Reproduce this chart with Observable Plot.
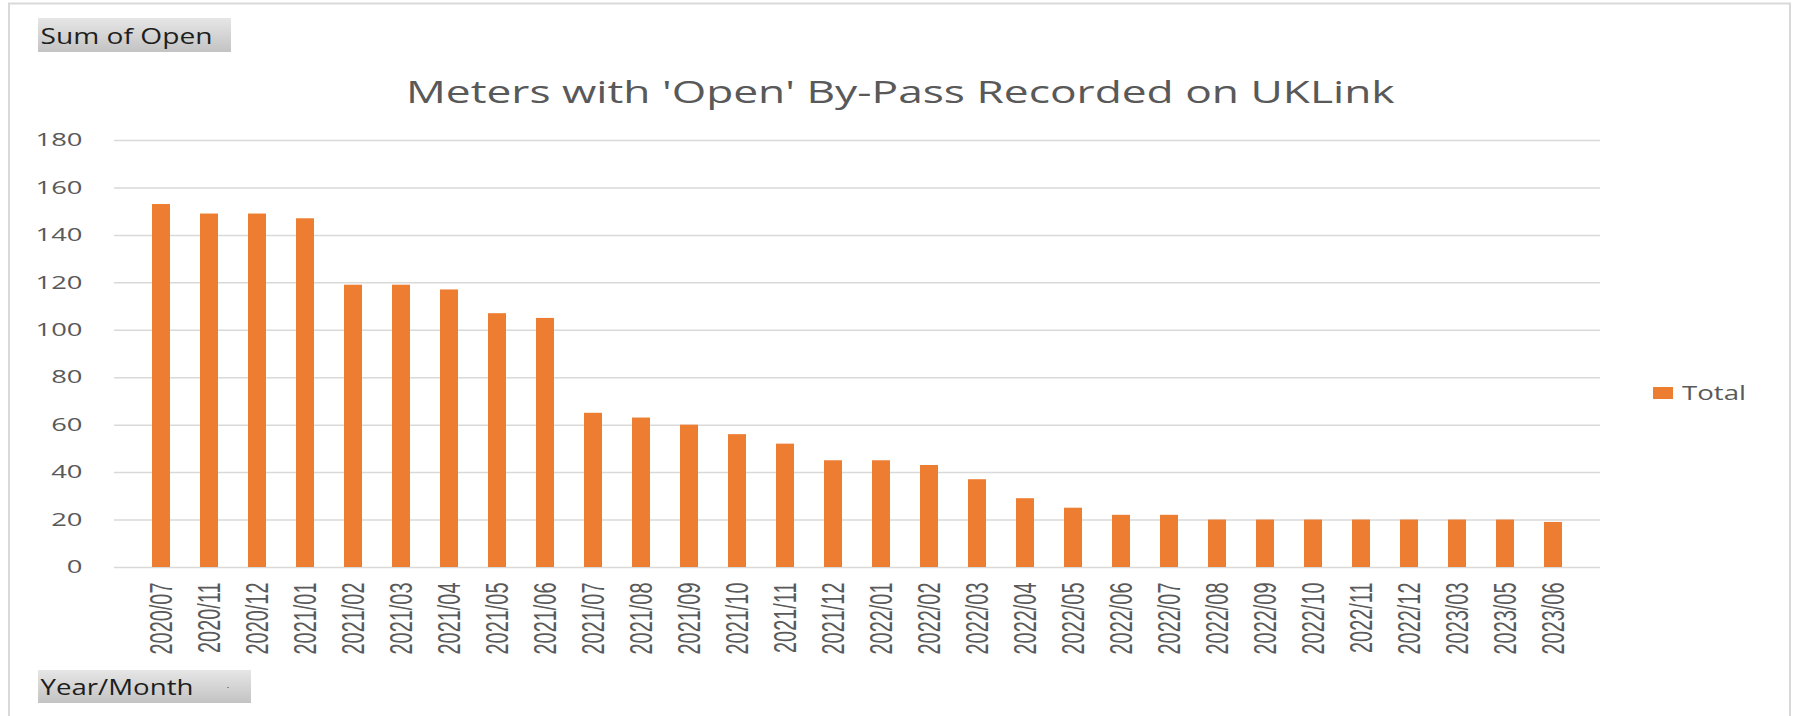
<!DOCTYPE html>
<html><head><meta charset="utf-8">
<script src="https://cdn.jsdelivr.net/npm/d3@7"></script>
<script src="https://cdn.jsdelivr.net/npm/@observablehq/plot@0.6"></script>
<style>
html,body{margin:0;padding:0;background:#fff;}
#chart{position:relative;width:1797px;height:716px;overflow:hidden;}
</style></head><body><div id="chart"></div>
<script>
const months = ["2020/07","2020/11","2020/12","2021/01","2021/02","2021/03","2021/04","2021/05","2021/06","2021/07","2021/08","2021/09","2021/10","2021/11","2021/12","2022/01","2022/02","2022/03","2022/04","2022/05","2022/06","2022/07","2022/08","2022/09","2022/10","2022/11","2022/12","2023/03","2023/05","2023/06"];
const totals = [153,149,149,147,119,119,117,107,105,65,63,60,56,52,45,45,43,37,29,25,22,22,20,20,20,20,20,20,20,19];
const yTicks = [0,20,40,60,80,100,120,140,160,180];
const seriesName = "Total";
const chartTitle = "Meters with 'Open' By-Pass Recorded on UKLink";
const valueField = "Sum of Open";
const axisField = "Year/Month";
const barColor = "#ED7D31";

const data = months.map((m, i) => ({month: m, total: totals[i], series: seriesName}));

const plot = Plot.plot({
  width: 1797, height: 716,
  marginLeft: 114, marginRight: 197, marginTop: 140, marginBottom: 149,
  style: {background: "transparent", fontFamily: "'Liberation Sans', Arial, sans-serif", overflow: "visible"},
  x: {domain: months, padding: 0.62, label: null},
  y: {domain: [0, 180], label: null},
  color: {domain: [seriesName], range: [barColor]},
  marks: [
    Plot.gridY(yTicks, {stroke: "#d9d9d9", strokeOpacity: 1, strokeWidth: 1.5}),
    Plot.barY(data, {x: "month", y: "total", fill: "series"}),
    Plot.axisY({ticks: yTicks, tickSize: 0, tickPadding: 32, fontSize: 18, fill: "#595959", label: null, fontFamily: "'Open Sans', sans-serif"}),
    Plot.axisX({tickSize: 0, tickPadding: 15, tickRotate: -90, textAnchor: "end", lineAnchor: "middle", fontSize: 20, fill: "#595959", label: null})
  ]
});
document.getElementById("chart").appendChild(plot);
const svg = d3.select(plot);

// horizontal stretch of tick labels (the reference is widened horizontally)
const yTexts = Array.from(plot.querySelectorAll('g[aria-label="y-axis tick label"] text'));
const y180 = yTexts.find(t => t.textContent === "180") || yTexts[yTexts.length - 1];
if (y180) {
  const s = 47 / y180.getComputedTextLength();
  yTexts.forEach(t => t.setAttribute("transform", (t.getAttribute("transform") || "") + ` scale(${s},1)`));
}
const xTexts = Array.from(plot.querySelectorAll('g[aria-label="x-axis tick label"] text'));
if (xTexts.length) {
  const a = 72 / xTexts[0].getComputedTextLength();
  const b = 22.5 / (0.716 * 20);
  xTexts.forEach(t => t.setAttribute("transform", (t.getAttribute("transform") || "") + ` scale(${a},${b})`));
}

// outer frame
svg.append("path").attr("d", "M9,740 V3.5 H1790 V740").attr("fill", "none").attr("stroke", "#d9d9d9").attr("stroke-width", 2);

// gradient for field buttons
const defs = svg.append("defs");
const g = defs.append("linearGradient").attr("id", "btn").attr("x1", 0).attr("y1", 0).attr("x2", 0).attr("y2", 1);
g.append("stop").attr("offset", "0%").attr("stop-color", "#e6e6e6");
g.append("stop").attr("offset", "100%").attr("stop-color", "#c3c3c3");

const overlay = svg.append("g").attr("text-anchor", "start");

function stretched(sel, x, y, w) {
  const L = sel.node().getComputedTextLength();
  sel.attr("transform", `translate(${x},${y}) scale(${w / L},1)`);
  return sel;
}
function label(txt, size, fill) {
  return overlay.append("text").attr("text-anchor", "start").attr("font-family", "'Open Sans', sans-serif")
    .attr("font-size", size).attr("fill", fill).text(txt);
}

// "Sum of Open" button
overlay.append("rect").attr("x", 38).attr("y", 18).attr("width", 193).attr("height", 34).attr("fill", "url(#btn)");
stretched(label(valueField, 21, "#1e1e1e"), 40.5, 43.5, 172);

// "Year/Month" button
overlay.append("rect").attr("x", 38).attr("y", 670).attr("width", 213).attr("height", 33).attr("fill", "url(#btn)");
stretched(label(axisField, 21, "#1e1e1e"), 40.5, 695, 153);
overlay.append("rect").attr("x", 227).attr("y", 687).attr("width", 2).attr("height", 1).attr("fill", "#888");

// title
stretched(label(chartTitle, 31, "#595959"), 406, 103, 989);

// legend
const color = plot.scale("color");
overlay.append("rect").attr("x", 1653).attr("y", 387).attr("width", 20).attr("height", 12).attr("fill", color.apply(seriesName));
stretched(label(seriesName, 20, "#595959"), 1682, 399.5, 64);
</script></body></html>
